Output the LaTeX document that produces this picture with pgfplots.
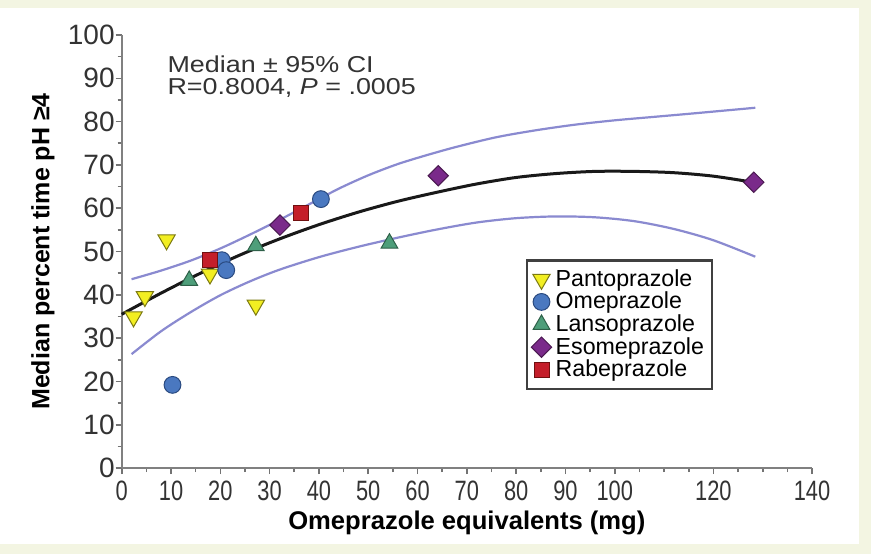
\documentclass[border=0pt]{standalone}
\usepackage{fontspec}
\setmainfont{Liberation Sans}
\usepackage{pgfplots}
\pgfplotsset{compat=1.18}
\definecolor{bgc}{HTML}{F3F5E2}
\definecolor{pyel}{HTML}{F2EE22}
\definecolor{pyelD}{HTML}{7C7A12}
\definecolor{oblu}{HTML}{4A78C0}
\definecolor{obluD}{HTML}{2A4A80}
\definecolor{lgrn}{HTML}{4E9E7A}
\definecolor{lgrnD}{HTML}{2E6048}
\definecolor{epur}{HTML}{7A2A8A}
\definecolor{epurD}{HTML}{4A1A50}
\definecolor{rred}{HTML}{C41E2A}
\definecolor{rredD}{HTML}{701010}
\definecolor{cib}{HTML}{8A8AD0}
\begin{document}
\begin{tikzpicture}
\fill[white] (0pt,0pt) rectangle (435.5pt,277pt);
\fill[bgc] (0pt,273pt) rectangle (435.5pt,277pt);
\fill[bgc] (0pt,0pt) rectangle (435.5pt,5pt);
\fill[bgc] (429.5pt,0pt) rectangle (435.5pt,277pt);
\useasboundingbox (0pt,0pt) rectangle (435.5pt,277pt);
\begin{axis}[
  at={(60.85pt,43pt)}, anchor=south west,
  scale only axis, width=345.15pt, height=216.5pt,
  xmin=0, xmax=140, ymin=0, ymax=100,
  axis x line=bottom, axis y line=left,
  axis line style={-, draw=black!50, line width=0.9pt},
  xtick={0,10,20,30,40,50,60,70,80,90,100,120,140},
  minor xtick={5,15,25,35,45,55,65,75,85,95,105,110,115,125,130,135},
  ytick={0,10,20,30,40,50,60,70,80,90,100},
  minor ytick={5,15,25,35,45,55,65,75,85,95},
  tick align=outside, major tick length=3pt, minor tick length=2pt,
  tick style={draw=black!55, line width=0.8pt},
  xticklabels={0,10,20,30,40,50,60,70,80,90,100,120,140},
  yticklabels={0,10,20,30,40,50,60,70,80,90,100},
  xticklabel style={font=\fontsize{14}{14}\selectfont, xscale=0.78, text=black!80},
  yticklabel style={font=\fontsize{14}{14}\selectfont, text=black!80, xshift=3pt},
  every axis y label/.style={at={(axis description cs:-0.114,0.5)}, rotate=90, anchor=center, font=\bfseries\fontsize{12.5}{13}\selectfont},
  every axis x label/.style={at={(axis description cs:0.5,-0.127)}, anchor=center, font=\bfseries\fontsize{12.8}{13}\selectfont},
  ylabel={Median percent time pH ≥4},
  xlabel={Omeprazole equivalents (mg)},
  clip=false,
  legend style={at={(rel axis cs:0.586,0.482)}, anchor=north west, draw=black!75, line width=1.1pt, fill=white,
    font=\fontsize{11.6}{12}\selectfont, inner xsep=2pt, inner ysep=2.5pt, row sep=-2.6pt, column sep=0pt},
  legend cell align=left,
  legend image code/.code={\draw[#1] plot coordinates {(0.18cm,0cm)};},
]
% confidence band and fit
\addplot[cib, line width=1.1pt, smooth, forget plot] coordinates {
 (2,43.6) (8,45.6) (14,47.9) (20,50.7) (26,53.9) (32,57.3) (38,60.9) (44,64.5) (50,67.6) (56,70.2)
 (62,72.3) (68,74.2) (76,76.4) (84,78.0) (92,79.3) (100,80.3) (108,81.1) (116,81.9) (128.5,83.2)};
\addplot[cib, line width=1.1pt, smooth, forget plot] coordinates {
 (2,26.3) (8,31.6) (14,36.0) (20,39.9) (26,43.1) (32,45.8) (40,48.7) (48,51.1) (56,53.2) (64,55.1)
 (72,56.7) (80,57.7) (88,58.1) (96,57.9) (104,57.0) (112,55.2) (120,52.6) (128.5,48.8)};
% scatter
\addplot[only marks, mark=triangle*, mark size=5pt, mark options={rotate=180, fill=pyel, draw=pyelD, line width=0.5pt}]
 coordinates {(2.4,34.9) (4.7,39.6) (9.1,52.7) (17.9,44.8) (27.2,37.6)};
\addlegendentry{Pantoprazole}
\addplot[only marks, mark=*, mark size=4.2pt, mark options={fill=oblu, draw=obluD, line width=0.5pt}]
 coordinates {(10.3,19.2) (20.3,48.0) (21.2,45.7) (40.4,62.1)};
\addlegendentry{Omeprazole}
\addplot[only marks, mark=triangle*, mark size=4.8pt, mark options={fill=lgrn, draw=lgrnD, line width=0.5pt}]
 coordinates {(13.7,43.3) (27.2,51.3) (54.3,51.9)};
\addlegendentry{Lansoprazole}
\addplot[only marks, mark=square*, mark size=3.6pt, mark options={rotate=45, fill=epur, draw=epurD, line width=0.5pt}]
 coordinates {(32.1,56.1) (64.2,67.5) (128.2,66.0)};
\addlegendentry{Esomeprazole}
\addplot[only marks, mark=square*, mark size=3.75pt, mark options={fill=rred, draw=rredD, line width=0.5pt}]
 coordinates {(17.9,48.0) (36.3,59.0)};
\addlegendentry{Rabeprazole}
\addplot[black!90, line width=1.5pt, smooth, forget plot] coordinates {
 (0,35.5) (8,40.4) (16,45.0) (24,49.2) (32,52.9) (40,56.2) (48,59.1) (56,61.6) (64,63.7) (72,65.6)
 (80,67.1) (88,68.0) (96,68.5) (104,68.5) (112,68.2) (120,67.4) (128,66.0)};
\node[anchor=west, inner sep=0pt, font=\fontsize{11.5}{12}\selectfont, xscale=1.17, text=black!80] at (axis cs:9.2,93.3) {Median ± 95\% CI};
\node[anchor=west, inner sep=0pt, font=\fontsize{11.5}{12}\selectfont, xscale=1.17, text=black!80] at (axis cs:9.2,87.8) {R=0.8004, \textit{P} = .0005};
\end{axis}
\end{tikzpicture}
\end{document}
